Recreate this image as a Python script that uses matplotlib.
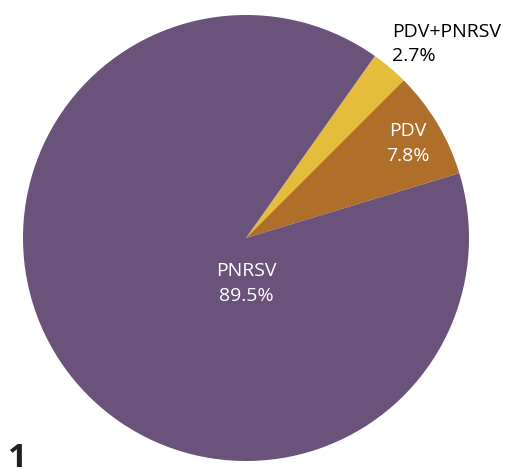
import matplotlib
matplotlib.use("Agg")
import matplotlib.pyplot as plt

categories = ["PDV+PNRSV", "PDV", "PNRSV"]
values = [2.7, 7.8, 89.5]
colors = ["#E3BD3B", "#AF6E2A", "#6A527B"]

W, H = 506, 476
fig = plt.figure(figsize=(W / 100, H / 100), dpi=100)
ax = fig.add_axes([0, 0, 1, 1])

cx, cy, r = 246, H - 238, 223
ax.pie(values, colors=colors, startangle=54.7, counterclock=False,
       center=(cx, cy), radius=r, frame=True,
       wedgeprops=dict(linewidth=0))
ax.set_xlim(0, W)
ax.set_ylim(0, H)
ax.set_aspect("equal")
ax.axis("off")

font = "Open Sans"
fs = 14
ax.text(246, H - 271, f"{categories[2]}", color="white", fontsize=fs, family=font, ha="center", va="center")
ax.text(246, H - 296, f"{values[2]}%", color="white", fontsize=fs, family=font, ha="center", va="center")
ax.text(408, H - 131, f"{categories[1]}", color="white", fontsize=fs, family=font, ha="center", va="center")
ax.text(408, H - 156, f"{values[1]}%", color="white", fontsize=fs, family=font, ha="center", va="center")
ax.text(392, H - 32, f"{categories[0]}", color="black", fontsize=fs, family=font, ha="left", va="center")
ax.text(392, H - 56, f"{values[0]}%", color="black", fontsize=fs, family=font, ha="left", va="center")

ax.text(8, 1, "1", color="#231F20", fontsize=24, fontweight="bold", family=font, ha="left", va="bottom")

fig.savefig("out.png", dpi=100)
